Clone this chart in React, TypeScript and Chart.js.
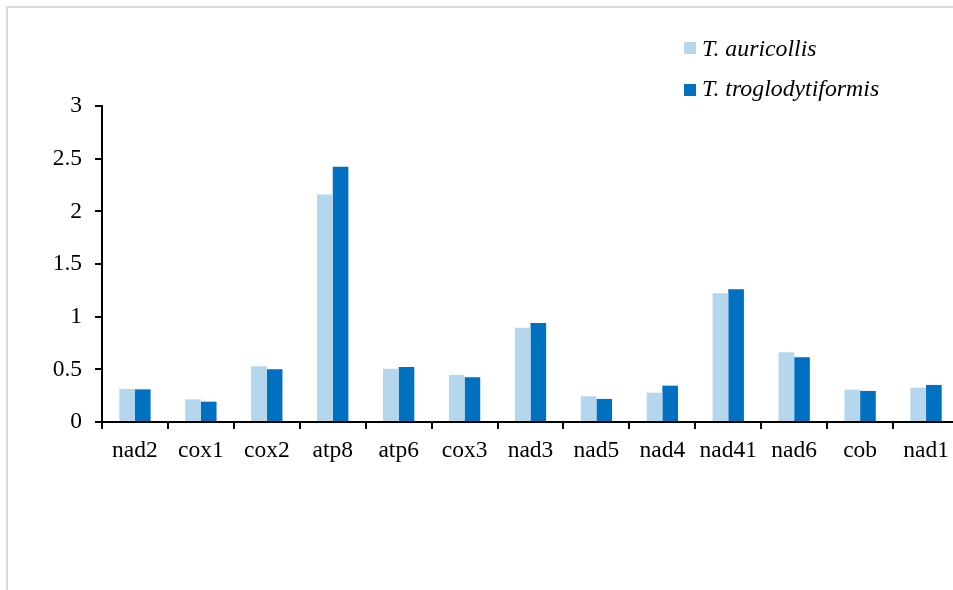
import React, { useEffect, useRef } from "react";
import { Chart, registerables } from "chart.js";

Chart.register(...registerables);

const categories = ["nad2", "cox1", "cox2", "atp8", "atp6", "cox3", "nad3", "nad5", "nad4", "nad41", "nad6", "cob", "nad1"];
const seriesNames = ["T. auricollis", "T. troglodytiformis"];
const auricollis = [0.314, 0.215, 0.529, 2.16, 0.506, 0.447, 0.894, 0.244, 0.279, 1.223, 0.662, 0.307, 0.326];
const troglodytiformis = [0.31, 0.193, 0.5, 2.424, 0.523, 0.425, 0.941, 0.219, 0.345, 1.261, 0.615, 0.295, 0.352];
const colors = ["#B4D7EE", "#0070C0"];

const FONT = "'Liberation Serif', 'Times New Roman', serif";

export default function App() {
  const ref = useRef<HTMLCanvasElement | null>(null);

  useEffect(() => {
    const canvas = ref.current;
    if (!canvas) return;
    const chart = new Chart(canvas, {
      type: "bar",
      data: {
        labels: categories,
        datasets: [
          { label: seriesNames[0], data: auricollis, backgroundColor: colors[0], borderWidth: 0, categoryPercentage: 0.475, barPercentage: 1 },
          { label: seriesNames[1], data: troglodytiformis, backgroundColor: colors[1], borderWidth: 0, categoryPercentage: 0.475, barPercentage: 1 },
        ],
      },
      options: {
        responsive: false,
        animation: false,
        devicePixelRatio: 1,
        layout: { padding: { left: 0, top: 106, right: 41, bottom: 0 } },
        plugins: { legend: { display: false }, tooltip: { enabled: false } },
        scales: {
          x: {
            afterFit: (s: any) => { s.height = 168; },
            grid: { drawOnChartArea: false, drawTicks: true, tickLength: 7, color: "#000", lineWidth: 2, offset: true },
            border: { display: true, color: "#000", width: 2 },
            ticks: { color: "#000", font: { family: FONT, size: 23.5 }, padding: 8, maxRotation: 0, autoSkip: false },
          },
          y: {
            min: 0,
            max: 3,
            afterFit: (s: any) => { s.width = 102; },
            grid: { drawOnChartArea: false, drawTicks: true, tickLength: 7, color: "#000", lineWidth: 2 },
            border: { display: true, color: "#000", width: 2 },
            ticks: {
              stepSize: 0.5,
              color: "#000",
              font: { family: FONT, size: 23.5 },
              padding: 13,
              callback: (v: any) => String(Number(v)),
            },
          },
        },
      },
    });
    return () => chart.destroy();
  }, []);

  const legendText: React.CSSProperties = {
    position: "absolute",
    left: 702,
    fontFamily: FONT,
    fontStyle: "italic",
    fontSize: 23.8,
    lineHeight: "22px",
    color: "#000",
    whiteSpace: "nowrap",
  };
  const sq = (c: string, top: number): React.CSSProperties => ({
    position: "absolute", left: 684, top, width: 12, height: 12, background: c,
  });

  return (
    <div style={{ position: "fixed", left: 0, top: 0, width: 953, height: 590, overflow: "hidden", background: "#fff" }}>
      <div style={{ position: "absolute", left: 6, top: 6, width: 1000, height: 1000, borderLeft: "2px solid #d9d9d9", borderTop: "2px solid #d9d9d9" }} />
      <canvas ref={ref} width={1000} height={590} style={{ position: "absolute", left: 0, top: 0, width: 1000, height: 590 }} />
      <div style={sq(colors[0], 42)} />
      <div style={{ ...legendText, top: 36.5 }}>{seriesNames[0]}</div>
      <div style={sq(colors[1], 84)} />
      <div style={{ ...legendText, top: 76.5 }}>{seriesNames[1]}</div>
    </div>
  );
}
